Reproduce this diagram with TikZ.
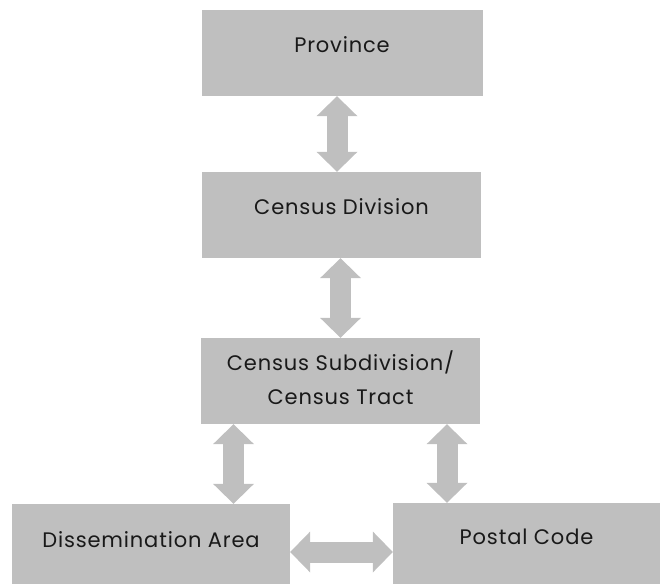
\documentclass[tikz,border=0pt]{standalone}
\usepackage{fontspec}
\setmainfont[LetterSpace=4]{Poppins}
\usetikzlibrary{arrows.meta}
\definecolor{boxgray}{RGB}{191,191,191}
\tikzset{
	level/.style={fill=boxgray, minimum width=279pt, minimum height=86pt, inner sep=0pt},
	caption/.style={font=\fontsize{21}{34}\selectfont, align=center, text=black!90},
	link/.style={draw=boxgray, line width=21pt, {Triangle[width=41pt,length=20pt,line width=0pt]}-{Triangle[width=41pt,length=20pt,line width=0pt]}}
}
\begin{document}
\begin{tikzpicture}[x=1pt,y=1pt]
			\useasboundingbox (0,0) rectangle (660,584);
			
			\node[level, minimum width=281pt] (prov)  at  (342, 531){};
			\node[level] (cdiv)  at  (341.5, 369){};
			\node[level] (csub)  at  (340.5, 203){};
			
			\node[level, minimum width=278pt, minimum height=80pt] (darea)  at  (151, 40){};
			\node[level, minimum width=267pt, minimum height=81pt] (pcode)  at  (526.5, 40.5){};
			
			\node[caption] (provtxt)  at  ([yshift=8.5pt]prov.center){Province};
			\node[caption] (cdivtxt)  at  ([yshift=8pt]cdiv.center){Census Division};
			\node[caption] (csubtxt)  at  ([yshift=3pt]csub.center){Census Subdivision/\\Census Tract};
			\node[caption] (dareatxt)  at  ([yshift=4pt]darea.center){Dissemination Area};
			\node[caption] (pcodetxt)  at  ([yshift=6.5pt]pcode.center){Postal Code};
			
			\draw[link] ([xshift=-5pt]prov.south) -- ([xshift=-5pt]prov.south |- cdiv.north);
			\draw[link] ([xshift=-1pt]cdiv.south) -- ([xshift=-1pt]cdiv.south |- csub.north);
			\draw[link] ([xshift=-107pt]csub.south) -- ([xshift=-107pt]csub.south |- darea.north);
			\draw[link] ([xshift=106.5pt]csub.south) -- ([xshift=106.5pt]csub.south |- pcode.north);
			\draw[link] ([yshift=-8pt]darea.east) -- ([yshift=-8pt]darea.east -| pcode.west);
			%\draw[link] (cdiv.west) -- (darea.north);
		\end{tikzpicture}
\end{document}
